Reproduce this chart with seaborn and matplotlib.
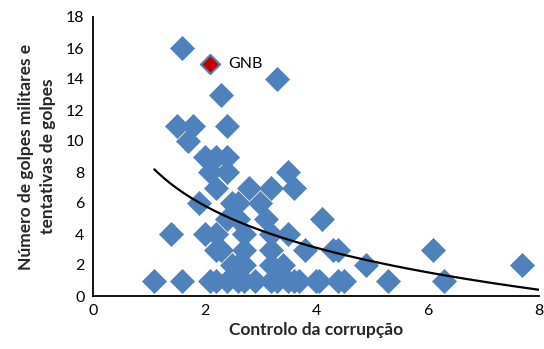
import numpy as np
import pandas as pd
import matplotlib
matplotlib.use("Agg")
import matplotlib.pyplot as plt
import seaborn as sns

# Controlo da corrupção (x) vs número de golpes (y)
corrupcao = [1.6, 3.3, 2.3,
             1.5, 1.8, 2.4,
             1.7,
             2.0, 2.2, 2.4,
             2.1, 2.4, 3.5,
             2.2, 2.8, 3.2, 3.6,
             1.9, 2.5, 2.6, 3.0,
             2.4, 2.6, 3.1, 4.1,
             1.4, 2.0, 2.2, 2.7, 3.2, 3.5,
             2.2, 2.3, 2.7, 3.2, 3.8, 4.3, 4.4, 6.1,
             2.5, 2.6, 2.7, 3.2, 3.4, 4.9, 7.7,
             1.1, 1.6, 2.1, 2.2, 2.4, 2.6, 2.7, 2.9, 3.2, 3.3, 3.5, 3.6,
             3.7, 4.0, 4.05, 4.4, 4.5, 5.3, 6.3]
golpes = [16, 14, 13,
          11, 11, 11,
          10,
          9, 9, 9,
          8, 8, 8,
          7, 7, 7, 7,
          6, 6, 6, 6,
          5, 5, 5, 5,
          4, 4, 4, 4, 4, 4,
          3, 3, 3, 3, 3, 3, 3, 3,
          2, 2, 2, 2, 2, 2, 2,
          1, 1, 1, 1, 1, 1, 1, 1, 1, 1, 1, 1,
          1, 1, 1, 1, 1, 1, 1]

# Guiné-Bissau, destacado
gnb_label = "GNB"
gnb_x = 2.1
gnb_y = 15

x_ticks = [0, 2, 4, 6, 8]
y_ticks = [0, 2, 4, 6, 8, 10, 12, 14, 16, 18]

df = pd.DataFrame({"corrupcao": corrupcao, "golpes": golpes})
df_gnb = pd.DataFrame({"corrupcao": [gnb_x], "golpes": [gnb_y]})

sns.set_style("white")
plt.rcParams["font.family"] = ["Lato", "DejaVu Sans"]

fig = plt.figure(figsize=(5.44, 3.49), dpi=100)
ax = fig.add_axes([93 / 544, 1 - 296 / 349, (539 - 93) / 544, (296 - 17) / 349])

blue = "#4F81BD"
sns.scatterplot(data=df, x="corrupcao", y="golpes", marker="D", s=150,
                color=blue, edgecolor=blue, linewidth=0.5, ax=ax, zorder=3)
sns.scatterplot(data=df_gnb, x="corrupcao", y="golpes", marker="D", s=95,
                color="#C00000", edgecolor=blue, linewidth=1.5, ax=ax, zorder=4)
ax.annotate(gnb_label, (gnb_x, gnb_y), xytext=(13, 0), textcoords="offset points",
            va="center", ha="left", fontsize=11.5, color="#000000")

# Linha de tendência logarítmica (restantes países)
all_x = np.array(corrupcao)
all_y = np.array(golpes)
b, a = np.polyfit(np.log(all_x), all_y, 1)
xs = np.linspace(all_x.min(), 8, 200)
ax.plot(xs, a + b * np.log(xs), color="black", linewidth=1.6, zorder=5)

ax.set_xlim(0, 8)
ax.set_ylim(0, 18)
ax.set_xticks(x_ticks)
ax.set_yticks(y_ticks)
ax.tick_params(axis="both", length=0, labelsize=11.5, pad=6, colors="#000000")
ax.set_xlabel("Controlo da corrupção", fontsize=12.5, fontweight="bold", labelpad=3)
ax.set_ylabel("Número de golpes militares e\ntentativas de golpes", fontsize=12.5,
              fontweight="bold", labelpad=7, linespacing=1.45)
for side in ["top", "right"]:
    ax.spines[side].set_visible(False)
for side in ["left", "bottom"]:
    ax.spines[side].set_color("#000000")
    ax.spines[side].set_linewidth(1.3)

fig.savefig("out.png", dpi=100)
